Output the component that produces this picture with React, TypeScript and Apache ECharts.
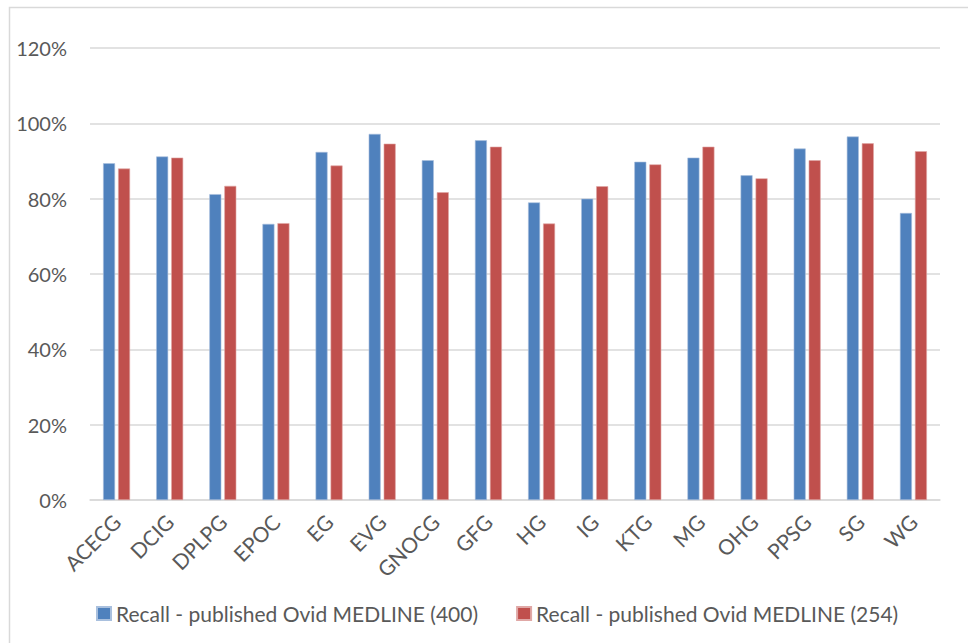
import React, { useEffect, useRef } from "react";
import * as echarts from "echarts";

const categories = ["ACECG", "DCIG", "DPLPG", "EPOC", "EG", "EVG", "GNOCG", "GFG", "HG", "IG", "KTG", "MG", "OHG", "PPSG", "SG", "WG"];
const recall400 = [89.4, 91.2, 81.2, 73.3, 92.4, 97.2, 90.2, 95.5, 79.0, 80.0, 89.8, 90.9, 86.2, 93.3, 96.5, 76.2];
const recall254 = [88.0, 90.9, 83.4, 73.5, 88.8, 94.6, 81.7, 93.8, 73.4, 83.3, 89.1, 93.8, 85.4, 90.2, 94.7, 92.6];
const seriesNames = ["Recall - published Ovid MEDLINE (400)", "Recall - published Ovid MEDLINE (254)"];

const FONT = "Lato, 'Open Sans', sans-serif";
const TEXT = "#595959";

export default function App() {
  const ref = useRef<HTMLDivElement>(null);
  useEffect(() => {
    if (!ref.current) return;
    const chart = echarts.init(ref.current, null, { renderer: "svg" });
    chart.setOption({
      animation: false,
      backgroundColor: "#ffffff",
      textStyle: { fontFamily: FONT },
      graphic: [
        {
          type: "rect",
          shape: { x: 9.5, y: 7.5, width: 1000, height: 700 },
          style: { fill: "none", stroke: "#d9d9d9", lineWidth: 1.5 },
          silent: true,
        },
      ],
      grid: { left: 90, right: 28, top: 48, bottom: 143, containLabel: false },
      legend: {
        data: seriesNames,
        left: 91,
        top: 598,
        itemWidth: 14,
        itemHeight: 13,
        itemGap: 38,
        icon: "rect",
        textStyle: { color: TEXT, fontSize: 21, fontFamily: FONT },
      },
      xAxis: {
        type: "category",
        data: categories,
        axisLine: { lineStyle: { color: "#d9d9d9", width: 1.5 } },
        axisTick: { show: false },
        axisLabel: { rotate: 45, color: TEXT, fontSize: 21, fontFamily: FONT, margin: 18, interval: 0 },
      },
      yAxis: {
        type: "value",
        min: 0,
        max: 120,
        interval: 20,
        axisLine: { show: false },
        axisTick: { show: false },
        splitLine: { lineStyle: { color: "#d9d9d9", width: 1.5 } },
        axisLabel: { color: TEXT, fontSize: 20, fontFamily: FONT, margin: 23, formatter: "{value}%" },
      },
      series: [
        {
          name: seriesNames[0],
          type: "bar",
          data: recall400,
          barWidth: 12,
          barGap: "25%",
          itemStyle: { color: "#4F81BD", borderColor: "#a9c0de", borderWidth: 0.6 },
        },
        {
          name: seriesNames[1],
          type: "bar",
          data: recall254,
          barWidth: 12,
          itemStyle: { color: "#C0504D", borderColor: "#e0a8a6", borderWidth: 0.6 },
        },
      ],
    });
    return () => chart.dispose();
  }, []);
  return <div ref={ref} style={{ position: "fixed", left: 0, top: 0, width: 968, height: 643 }} />;
}
